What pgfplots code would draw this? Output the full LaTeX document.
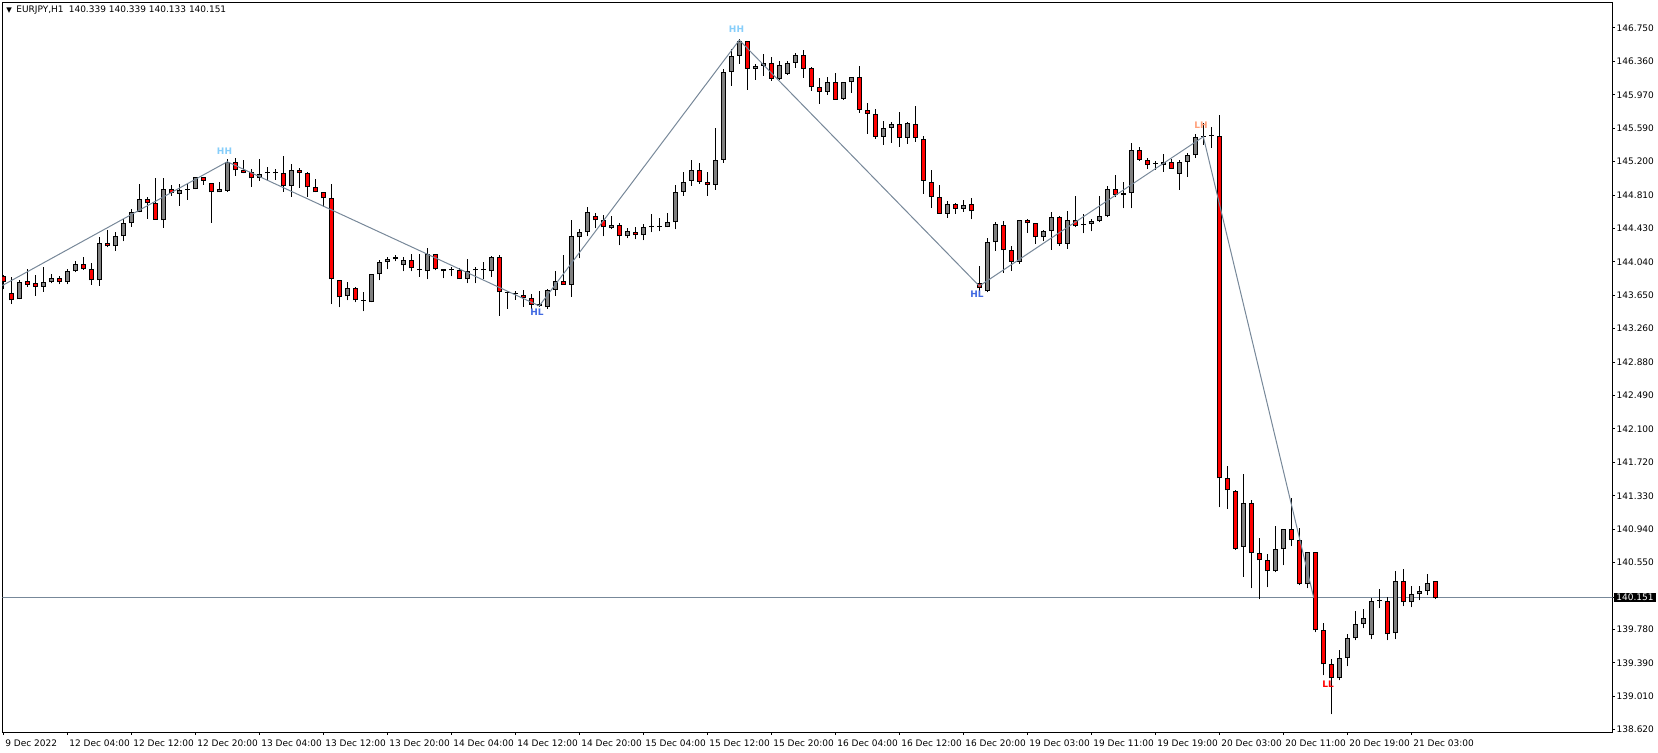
\documentclass[border=0pt]{standalone}
\usepackage{fontspec}
\setmainfont{DejaVu Sans}
\usepackage{pgfplots}
\usepackage{pgfplotstable}
\pgfplotsset{compat=1.18}

\definecolor{bear}{HTML}{FF0000}
\definecolor{bull}{HTML}{808080}
\definecolor{zz}{HTML}{778899}
\definecolor{hh}{HTML}{87CEFA}
\definecolor{hl}{HTML}{4169E1}
\definecolor{lh}{HTML}{FFA07A}
\definecolor{ll}{HTML}{FF0000}

% EURJPY H1, bar index, open high low close
\pgfplotstableread{
i o h l c
0 143.877 143.888 143.722 143.803
1 143.676 143.861 143.552 143.595
2 143.606 143.830 143.606 143.803
3 143.815 143.958 143.753 143.776
4 143.792 143.888 143.649 143.753
5 143.753 143.981 143.695 143.803
6 143.803 143.900 143.792 143.850
7 143.850 143.877 143.780 143.803
8 143.803 143.958 143.780 143.931
9 143.931 144.050 143.919 144.012
10 144.012 144.097 143.946 143.954
11 143.954 144.023 143.776 143.826
12 143.826 144.329 143.765 144.259
13 144.259 144.410 144.209 144.221
14 144.221 144.387 144.170 144.336
15 144.336 144.533 144.278 144.491
16 144.487 144.653 144.448 144.618
17 144.614 144.943 144.614 144.769
18 144.769 144.792 144.541 144.718
19 144.722 145.012 144.529 144.529
20 144.522 145.012 144.437 144.881
21 144.881 144.931 144.807 144.834
22 144.831 144.943 144.688 144.873
23 144.870 144.950 144.757 144.878
24 144.881 145.020 144.881 145.020
25 145.020 145.020 144.931 144.981
26 144.950 144.950 144.495 144.846
27 144.846 144.962 144.846 144.881
28 144.865 145.228 144.854 145.194
29 145.194 145.240 145.039 145.101
30 145.101 145.221 145.066 145.074
31 145.078 145.112 144.912 145.008
32 145.008 145.228 144.981 145.055
33 145.066 145.136 144.989 145.066
34 145.066 145.112 144.989 145.066
35 145.066 145.267 144.854 144.916
36 144.916 145.170 144.796 145.101
37 145.101 145.124 144.900 145.066
38 145.066 145.078 144.796 144.904
39 144.904 144.997 144.846 144.846
40 144.846 144.846 144.680 144.777
41 144.776 144.939 143.552 143.838
42 143.826 143.826 143.514 143.629
43 143.641 143.803 143.595 143.734
44 143.734 143.745 143.572 143.595
45 143.591 143.687 143.467 143.591
46 143.572 143.896 143.572 143.896
47 143.896 144.058 143.826 144.035
48 144.035 144.093 143.954 144.070
49 144.070 144.116 144.047 144.093
50 144.000 144.093 143.931 144.058
51 144.058 144.128 143.931 143.965
52 143.942 144.128 143.869 143.942
53 143.931 144.197 143.838 144.128
54 144.128 144.128 143.942 143.954
55 143.954 143.954 143.850 143.931
56 143.942 143.977 143.873 143.942
57 143.942 143.965 143.838 143.838
58 143.838 144.070 143.792 143.931
59 143.942 143.977 143.792 143.942
60 143.942 144.035 143.838 143.942
61 143.931 144.105 143.869 144.093
62 144.093 144.116 143.417 143.688
63 143.684 143.707 143.498 143.684
64 143.672 143.707 143.602 143.672
65 143.660 143.718 143.521 143.626
66 143.626 143.672 143.498 143.545
67 143.548 143.707 143.521 143.525
68 143.514 143.730 143.498 143.718
69 143.718 143.938 143.649 143.823
70 143.823 144.116 143.776 143.776
71 143.776 144.522 143.637 144.336
72 144.325 144.417 144.081 144.383
73 144.383 144.672 144.336 144.614
74 144.568 144.603 144.429 144.522
75 144.522 144.580 144.336 144.440
76 144.429 144.568 144.417 144.464
77 144.464 144.487 144.232 144.336
78 144.336 144.429 144.313 144.394
79 144.383 144.441 144.302 144.348
80 144.348 144.475 144.290 144.441
81 144.440 144.591 144.383 144.440
82 144.448 144.545 144.394 144.452
83 144.440 144.603 144.440 144.498
84 144.498 144.935 144.417 144.854
85 144.854 145.085 144.808 144.970
86 144.981 145.217 144.923 145.109
87 145.109 145.190 144.946 144.970
88 144.970 145.085 144.808 144.935
89 144.935 145.588 144.877 145.224
90 145.224 146.279 145.190 146.244
91 146.244 146.511 146.082 146.430
92 146.430 146.626 146.337 146.603
93 146.603 146.603 146.036 146.279
94 146.279 146.337 146.151 146.314
95 146.314 146.445 146.198 146.348
96 146.348 146.418 146.140 146.163
97 146.163 146.372 146.151 146.325
98 146.221 146.372 146.209 146.348
99 146.348 146.464 146.290 146.441
100 146.441 146.499 146.175 146.279
101 146.283 146.294 146.024 146.063
102 146.063 146.167 145.873 146.012
103 146.012 146.178 145.978 146.120
104 146.120 146.225 145.920 145.920
105 145.931 146.120 145.920 146.120
106 146.120 146.178 146.001 146.178
107 146.178 146.306 145.769 145.804
108 145.804 145.885 145.526 145.757
109 145.757 145.815 145.468 145.491
110 145.491 145.676 145.398 145.595
111 145.595 145.665 145.422 145.642
112 145.642 145.781 145.375 145.479
113 145.479 145.665 145.410 145.653
114 145.642 145.850 145.433 145.479
115 145.468 145.503 144.831 144.981
116 144.970 145.109 144.668 144.796
117 144.796 144.935 144.599 144.599
118 144.599 144.749 144.553 144.715
119 144.715 144.726 144.599 144.657
120 144.657 144.761 144.622 144.703
121 144.707 144.776 144.533 144.626
122 143.792 143.989 143.676 143.734
123 143.699 144.321 143.687 144.267
124 144.267 144.498 144.170 144.475
125 144.464 144.510 143.915 144.174
126 144.174 144.228 143.938 144.043
127 144.043 144.522 144.020 144.522
128 144.522 144.533 144.379 144.487
129 144.487 144.487 144.251 144.325
130 144.325 144.406 144.278 144.394
131 144.394 144.614 144.182 144.556
132 144.556 144.568 144.228 144.251
133 144.251 144.626 144.193 144.522
134 144.522 144.800 144.441 144.452
135 144.471 144.591 144.371 144.471
136 144.475 144.533 144.394 144.510
137 144.510 144.800 144.498 144.568
138 144.568 144.916 144.556 144.881
139 144.881 145.043 144.788 144.811
140 144.811 144.962 144.661 144.834
141 144.834 145.414 144.661 145.333
142 145.333 145.367 145.213 145.224
143 145.224 145.248 145.120 145.167
144 145.178 145.213 145.109 145.178
145 145.167 145.294 145.085 145.201
146 145.201 145.236 145.120 145.120
147 145.062 145.225 144.877 145.201
148 145.201 145.298 145.028 145.275
149 145.275 145.518 145.248 145.483
150 145.491 145.645 145.398 145.491
151 145.499 145.599 145.364 145.499
152 145.495 145.742 141.197 141.532
153 141.532 141.675 141.177 141.393
154 141.382 141.393 140.706 140.718
155 140.737 141.583 140.393 141.243
156 141.243 141.277 140.258 140.663
157 140.663 140.837 140.130 140.582
158 140.582 140.652 140.269 140.455
159 140.455 140.976 140.443 140.710
160 140.710 140.941 140.524 140.941
161 140.941 141.301 140.744 140.814
162 140.814 140.953 140.293 140.304
163 140.304 140.675 140.258 140.675
164 140.675 140.675 139.748 139.771
165 139.771 139.852 139.250 139.377
166 139.377 139.435 138.798 139.215
167 139.215 139.539 139.192 139.447
168 139.447 139.725 139.354 139.679
169 139.679 139.991 139.655 139.841
170 139.841 140.015 139.794 139.910
171 139.713 140.142 139.667 140.107
172 140.115 140.254 140.026 140.115
173 140.107 140.154 139.655 139.725
174 139.736 140.455 139.667 140.339
175 140.339 140.478 140.049 140.096
176 140.096 140.281 140.038 140.188
177 140.188 140.281 140.119 140.223
178 140.223 140.420 140.177 140.316
179 140.339 140.339 140.133 140.151
}\candles

\pgfplotsset{
  candle/.style={only marks, mark=*, mark size=0pt,
    mark options={draw opacity=0, fill opacity=0},
    error bars/.cd, y dir=plus, y explicit, error mark=none},
}

\begin{document}
\begin{tikzpicture}
\useasboundingbox (-1.15pt,-10.35pt) rectangle (827.85pt,366.15pt);
\begin{axis}[
  scale only axis,
  width=805.2pt, height=364.8pt,
  xmin=-0.125, xmax=201.175,
  ymin=138.590, ymax=147.043,
  axis line style={black, line width=0.5pt},
  tick align=outside,
  major tick length=1.2pt,
  tick style={black, line width=0.5pt},
  xtick pos=left,
  ytick pos=right,
  yticklabel pos=right,
  xtick={0,8,...,176},
  xticklabels={9 Dec 2022,12 Dec 04:00,12 Dec 12:00,12 Dec 20:00,13 Dec 04:00,13 Dec 12:00,13 Dec 20:00,14 Dec 04:00,14 Dec 12:00,14 Dec 20:00,15 Dec 04:00,15 Dec 12:00,15 Dec 20:00,16 Dec 04:00,16 Dec 12:00,16 Dec 20:00,19 Dec 03:00,19 Dec 11:00,19 Dec 19:00,20 Dec 03:00,20 Dec 11:00,20 Dec 19:00,21 Dec 03:00},
  ytick={146.750,146.3629,145.9757,145.5886,145.2014,144.8143,144.4271,144.0400,143.6529,143.2657,142.8786,142.4914,142.1043,141.7171,141.3300,140.9429,140.5557,139.7814,139.3943,139.0071,138.6200},
  yticklabels={146.750,146.360,145.970,145.590,145.200,144.810,144.430,144.040,143.650,143.260,142.880,142.490,142.100,141.720,141.330,140.940,140.550,139.780,139.390,139.010,138.620},
  every tick label/.append style={font=\fontsize{4.5}{5}\selectfont, text=black},
  xticklabel style={anchor=north west, inner sep=0pt, xshift=0.8pt, yshift=-2.6pt},
  yticklabel style={anchor=west, inner sep=0pt, xshift=0.6pt},
  extra y ticks={140.151},
  extra y tick labels={140.151},
  extra y tick style={yticklabel style={fill=black, text=white, inner xsep=1.3pt, inner ysep=0.5pt, text height=3.3pt, text depth=0pt, xshift=-1.45pt}},
  unbounded coords=discard,
]
% bid line
\addplot[zz, line width=0.5pt] coordinates {(-0.125,140.151) (201.175,140.151)};

% wicks
\addplot[candle, error bar style={line width=0.5pt, black}]
  table[x=i, y=l, y error plus expr=\thisrow{h}-\thisrow{l}] {\candles};

% body outlines
\addplot[candle, error bar style={line width=2.5pt, black}]
  table[x=i, y expr={min(\thisrow{o},\thisrow{c})},
        y error plus expr={max(abs(\thisrow{c}-\thisrow{o}),0.0116)}] {\candles};

% bull fill
\addplot[candle, error bar style={line width=1.5pt, bull}]
  table[x=i, y expr={\thisrow{c}>\thisrow{o} ? \thisrow{o}+0.0116 : nan},
        y error plus expr={max(\thisrow{c}-\thisrow{o}-0.0232,0)}] {\candles};

% bear fill
\addplot[candle, error bar style={line width=1.5pt, bear}]
  table[x=i, y expr={\thisrow{c}<\thisrow{o} ? \thisrow{c}+0.0116 : nan},
        y error plus expr={max(\thisrow{o}-\thisrow{c}-0.0232,0)}] {\candles};

% zigzag
\addplot[zz, line width=0.5pt] coordinates {
  (-0.125,143.766) (28,145.200) (67,143.530) (92,146.610)
  (122,143.760) (150,145.490) (163.8,140.150)
};

\node[font=\bfseries\fontsize{4.5}{5}\selectfont, text=hh, inner sep=0pt] at (axis cs:27.65,145.32) {HH};
\node[font=\bfseries\fontsize{4.5}{5}\selectfont, text=hh, inner sep=0pt] at (axis cs:91.65,146.735) {HH};
\node[font=\bfseries\fontsize{4.5}{5}\selectfont, text=hl, inner sep=0pt] at (axis cs:66.7,143.454) {HL};
\node[font=\bfseries\fontsize{4.5}{5}\selectfont, text=hl, inner sep=0pt] at (axis cs:121.7,143.665) {HL};
\node[font=\bfseries\fontsize{4.5}{5}\selectfont, text=lh, inner sep=0pt] at (axis cs:149.7,145.620) {LH};
\node[font=\bfseries\fontsize{4.5}{5}\selectfont, text=ll, inner sep=0pt] at (axis cs:165.6,139.144) {LL};

\node[anchor=west, inner sep=0pt, font=\fontsize{4.5}{5}\selectfont] at (axis description cs:0.0023,0.9893)
  {{\fontsize{3.6}{4}\selectfont ▼}\hspace{2.2pt}EURJPY,H1\hspace{2.6pt}140.339 140.339 140.133 140.151};
\end{axis}
\end{tikzpicture}
\end{document}
